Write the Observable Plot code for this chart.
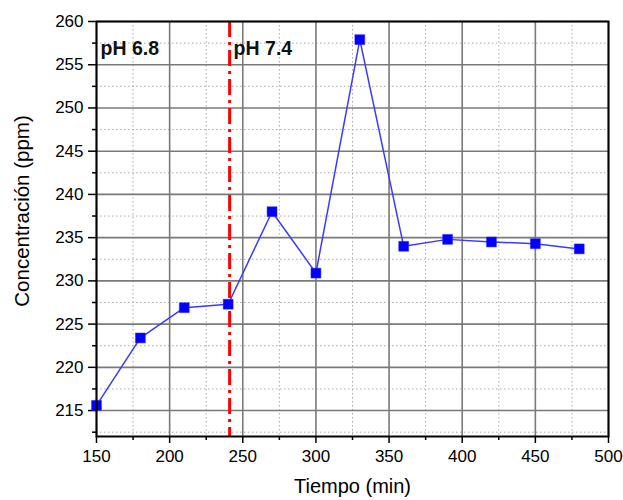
<!DOCTYPE html>
<html>
<head>
<meta charset="utf-8">
<script src="https://cdn.jsdelivr.net/npm/d3@7"></script>
<script src="https://cdn.jsdelivr.net/npm/@observablehq/plot@0.6"></script>
<style>
  html, body { margin: 0; padding: 0; background: #fff; }
</style>
</head>
<body>
<div id="chart"></div>
<script>
const tiempo = [150, 180, 210, 240, 270, 300, 330, 360, 390, 420, 450, 480];
const concentracion = [215.6, 223.4, 226.9, 227.3, 238.0, 230.9, 257.9, 234.0, 234.8, 234.5, 234.3, 233.7];
const xMajorTicks = [150, 200, 250, 300, 350, 400, 450, 500];
const xMinorTicks = [175, 225, 275, 325, 375, 425, 475];
const yMajorTicks = [215, 220, 225, 230, 235, 240, 245, 250, 255, 260];
const yMinorTicks = [212.5, 217.5, 222.5, 227.5, 232.5, 237.5, 242.5, 247.5, 252.5, 257.5];
const phChange = [241];
const phLabels = ["pH 6.8", "pH 7.4"];
const phLabelX = [150, 241];
const xTitle = "Tiempo (min)";
const yTitle = "Concentración (ppm)";

const data = tiempo.map((t, i) => ({t, c: concentracion[i]}));
const phData = phLabels.map((l, i) => ({l, x: phLabelX[i]}));

const chart = Plot.plot({
  width: 623,
  height: 500,
  marginLeft: 96,
  marginRight: 15,
  marginTop: 21,
  marginBottom: 64,
  style: {fontFamily: "'Liberation Sans', Arial, sans-serif", fontSize: "17px", color: "#000", background: "#fff"},
  x: {domain: [150, 500]},
  y: {domain: [212, 260]},
  marks: [
    Plot.ruleX(xMinorTicks, {stroke: "#aaa", strokeWidth: 1, strokeDasharray: "1.5,2.5"}),
    Plot.ruleY(yMinorTicks, {stroke: "#aaa", strokeWidth: 1, strokeDasharray: "1.5,2.5"}),
    Plot.ruleX(xMajorTicks, {stroke: "#7a7a7a", strokeWidth: 1.6}),
    Plot.ruleY(yMajorTicks, {stroke: "#7a7a7a", strokeWidth: 1.6}),
    Plot.axisX({ticks: xMinorTicks, tickSize: 4, text: null, label: null, strokeWidth: 1.5}),
    Plot.axisY({ticks: yMinorTicks, tickSize: 4, text: null, label: null, strokeWidth: 1.5}),
    Plot.axisX({ticks: xMajorTicks, tickSize: 7, tickPadding: 6, label: null, strokeWidth: 1.5, fontSize: 17, fill: "#000"}),
    Plot.axisY({ticks: yMajorTicks, tickSize: 8, tickPadding: 5, label: null, strokeWidth: 1.5, fontSize: 17, fill: "#000"}),
    Plot.ruleX(phChange, {stroke: "#ff0000", strokeWidth: 3, strokeDasharray: "16,5,3,5"}),
    Plot.line(data, {x: "t", y: "c", stroke: "#3a3aff", strokeWidth: 1.5}),
    Plot.dot(data, {x: "t", y: "c", symbol: "square", r: 5.6, fill: "#0000ff", stroke: "#2a2aff", strokeWidth: 0.5}),
    Plot.text(phData, {x: "x", y: 256.8, text: "l", textAnchor: "start", dx: 4, fontSize: 19.5, fontWeight: "bold", fill: "#111"}),
    Plot.frame({stroke: "#000", strokeWidth: 2}),
    Plot.text([xTitle], {frameAnchor: "bottom", textAnchor: "middle", dy: 56, fontSize: 20, fill: "#000"}),
    Plot.text([yTitle], {frameAnchor: "left", textAnchor: "middle", dx: -74, dy: -18, rotate: -90, fontSize: 20.5, fill: "#000"})
  ]
});
document.getElementById("chart").appendChild(chart);
</script>
</body>
</html>
